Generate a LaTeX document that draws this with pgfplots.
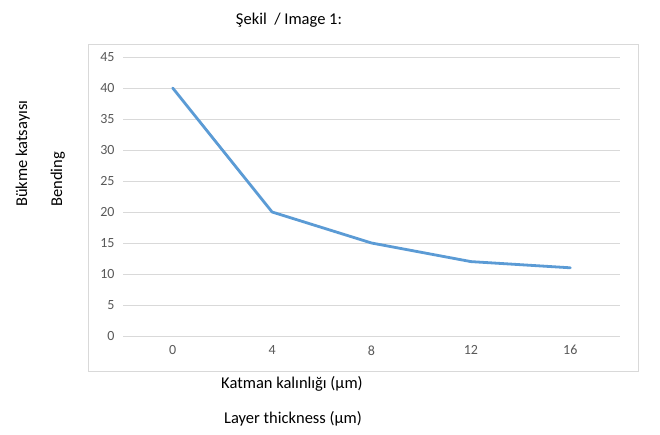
\documentclass[border=0pt]{standalone}
\usepackage{pgfplots}
\pgfplotsset{compat=1.18}
\usepackage{fontspec}
\setmainfont{Carlito}
\definecolor{gridc}{HTML}{D9D9D9}
\definecolor{tickc}{HTML}{595959}
\definecolor{linec}{HTML}{5B9BD5}
\begin{document}
\begin{tikzpicture}[x=1pt,y=1pt]
\path[fill=white] (0,0) rectangle (660,434);
\draw[gridc, line width=0.9pt, fill=white] (88,63) rectangle (638,390);
\begin{axis}[
  at={(123pt,98pt)}, anchor=south west,
  scale only axis, width=497pt, height=279pt,
  xmin=-0.5, xmax=4.5, ymin=0, ymax=45,
  xtick={0,1,2,3,4}, xticklabels={0,4,8,12,16},
  ytick={0,5,...,45},
  axis line style={draw=none},
  major tick length=0pt,
  ymajorgrids, grid style={gridc, line width=0.9pt},
  tick label style={font=\fontsize{14}{16}\selectfont, text=tickc},
  /pgf/number format/assume math mode=true,
  yticklabel style={xshift=-5pt},
  xticklabel style={yshift=-6pt},
  clip=false,
]
\addplot[linec, line width=2.8pt, line join=round, line cap=round] coordinates {
(0,40) (1,20) (2,15) (3,12) (4,11)
};
\end{axis}
\node[font=\fontsize{16.5}{19}\selectfont] at (289,414) {Şekil\ \ / Image 1:};
\node[font=\fontsize{16.5}{19}\selectfont] at (292,50) {Katman kalınlığı (µm)};
\node[font=\fontsize{16.5}{19}\selectfont] at (293,15) {Layer thickness (µm)};
\node[font=\fontsize{16.5}{19}\selectfont, rotate=90, anchor=base west, inner sep=0pt] at (27,227) {Bükme katsayısı};
\node[font=\fontsize{16.5}{19}\selectfont, rotate=90, anchor=base west, inner sep=0pt] at (62,227) {Bending};
\end{tikzpicture}
\end{document}
